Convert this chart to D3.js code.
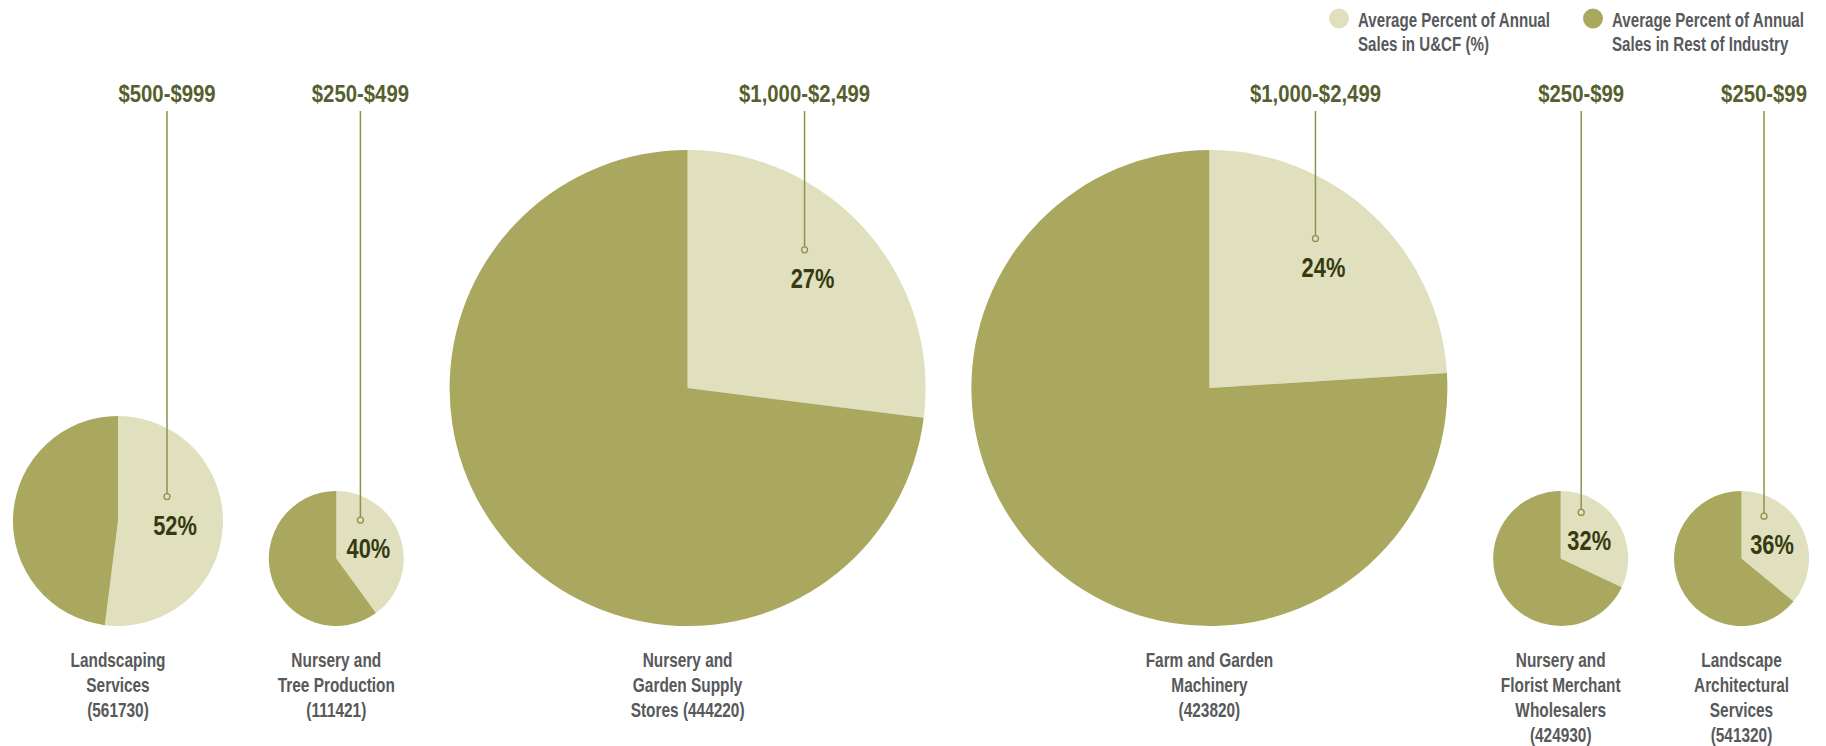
<!DOCTYPE html>
<html>
<head>
<meta charset="utf-8">
<script src="https://cdn.jsdelivr.net/npm/d3@7"></script>
<style>
  html, body { margin: 0; padding: 0; background: #ffffff; }
  svg { display: block; }
  text { font-family: "Liberation Sans", Arial, sans-serif; font-weight: bold; }
</style>
</head>
<body>
<svg id="chart" width="1826" height="746"></svg>
<script>
// Industry groups, one pie each
const industryLines = [
  ["Landscaping", "Services", "(561730)"],
  ["Nursery and", "Tree Production", "(111421)"],
  ["Nursery and", "Garden Supply", "Stores (444220)"],
  ["Farm and Garden", "Machinery", "(423820)"],
  ["Nursery and", "Florist Merchant", "Wholesalers", "(424930)"],
  ["Landscape", "Architectural", "Services", "(541320)"]
];

// Average annual sales range shown above each pie
const salesRanges = ["$500-$999", "$250-$499", "$1,000-$2,499", "$1,000-$2,499", "$250-$99", "$250-$99"];

// Average percent of annual sales in U&CF
const ucfShare = [52, 40, 27, 24, 32, 36];
// Average percent of annual sales in the rest of the industry
const restShare = [48, 60, 73, 76, 68, 64];

// Legend entries
const legendLines = [
  ["Average Percent of Annual", "Sales in U&CF (%)"],
  ["Average Percent of Annual", "Sales in Rest of Industry"]
];

const LIGHT = "#e0e0be";
const DARK = "#aaa85e";
const RANGE_TEXT = "#565f2e";
const PCT_TEXT = "#363a10";
const CAT_TEXT = "#58595b";
const LEADER = "#8e9148";

// horizontal squeeze giving the condensed gothic look
const NARROW = 0.79;

const svg = d3.select("#chart");

// Pie radius by sales range tier
const radius = d3.scaleOrdinal()
  .domain(["$250-$99", "$250-$499", "$500-$999", "$1,000-$2,499"])
  .range([67.5, 67.5, 105, 238]);

// Label distance from centre as a fraction of the radius
const labelRatio = d3.scaleLinear().domain([67.5, 238]).range([0.5, 0.7]);

const pie = d3.pie().sort(null).value(d => d.value);
const color = d3.scaleOrdinal().domain(["ucf", "rest"]).range([LIGHT, DARK]);

// Lay pies out left to right with a constant gap, all sitting on one baseline
const leftEdge = 13, rightEdge = 1809, baseY = 626;
const radii = salesRanges.map(r => radius(r));
const gap = (rightEdge - leftEdge - d3.sum(radii) * 2) / (radii.length - 1);
let cursor = leftEdge;
const pies = industryLines.map((lines, i) => {
  const r = radii[i];
  const cx = cursor + r;
  cursor += 2 * r + gap;
  return {
    lines, range: salesRanges[i], ucf: ucfShare[i], rest: restShare[i],
    r, cx, cy: baseY - r
  };
});

// text placed at (x, y) and squeezed horizontally
function narrowText(parent, x, y, s) {
  return parent.append("text")
    .attr("transform", `translate(${x},${y}) scale(${s},1)`);
}

const groups = svg.selectAll("g.pie")
  .data(pies)
  .join("g")
  .attr("class", "pie")
  .attr("transform", d => `translate(${d.cx},${d.cy})`);

groups.each(function(d) {
  const g = d3.select(this);
  const arcs = pie([{ key: "ucf", value: d.ucf }, { key: "rest", value: d.rest }]);
  const arc = d3.arc().innerRadius(0).outerRadius(d.r);

  g.selectAll("path")
    .data(arcs)
    .join("path")
    .attr("d", arc)
    .attr("fill", a => color(a.data.key));

  // percent label at the centroid of the U&CF slice
  const lr = d.r * labelRatio(d.r);
  const labelArc = d3.arc().innerRadius(lr).outerRadius(lr);
  const [lx, ly] = labelArc.centroid(arcs[0]);

  const px = lx - 8, py = ly - 28;
  // leader line from the sales range label down into the slice
  g.append("line")
    .attr("x1", px).attr("x2", px)
    .attr("y1", 111 - d.cy).attr("y2", py - 3)
    .attr("stroke", LEADER).attr("stroke-width", 1.5);
  g.append("circle")
    .attr("cx", px).attr("cy", py).attr("r", 3)
    .attr("fill", LIGHT).attr("stroke", LEADER).attr("stroke-width", 1.3);

  narrowText(g, px, 102 - d.cy, 0.83)
    .attr("text-anchor", "middle")
    .attr("font-size", 24.5)
    .attr("fill", RANGE_TEXT)
    .text(d.range);

  narrowText(g, lx, ly + 10, 0.78)
    .attr("text-anchor", "middle")
    .attr("font-size", 28)
    .attr("fill", PCT_TEXT)
    .text(d.ucf + "%");

  // industry name below the pie
  narrowText(g, 0, 0, NARROW)
    .attr("text-anchor", "middle")
    .attr("font-size", 19.5)
    .attr("fill", CAT_TEXT)
    .selectAll("tspan")
    .data(d.lines)
    .join("tspan")
    .attr("x", 0)
    .attr("y", (t, j) => 667 - d.cy + j * 25)
    .text(t => t);
});

// Legend, top right
const legend = svg.selectAll("g.legend")
  .data(legendLines)
  .join("g")
  .attr("class", "legend")
  .attr("transform", (d, i) => `translate(${1339 + i * 254},0)`);

legend.append("circle")
  .attr("cx", 0).attr("cy", 18.5).attr("r", 10)
  .attr("fill", (d, i) => i === 0 ? LIGHT : DARK);

legend.each(function(d) {
  narrowText(d3.select(this), 19, 0, 0.775)
    .attr("font-size", 19.5)
    .attr("fill", CAT_TEXT)
    .selectAll("tspan")
    .data(d)
    .join("tspan")
    .attr("x", 0)
    .attr("y", (t, j) => 27 + j * 24)
    .text(t => t);
});
</script>
</body>
</html>
